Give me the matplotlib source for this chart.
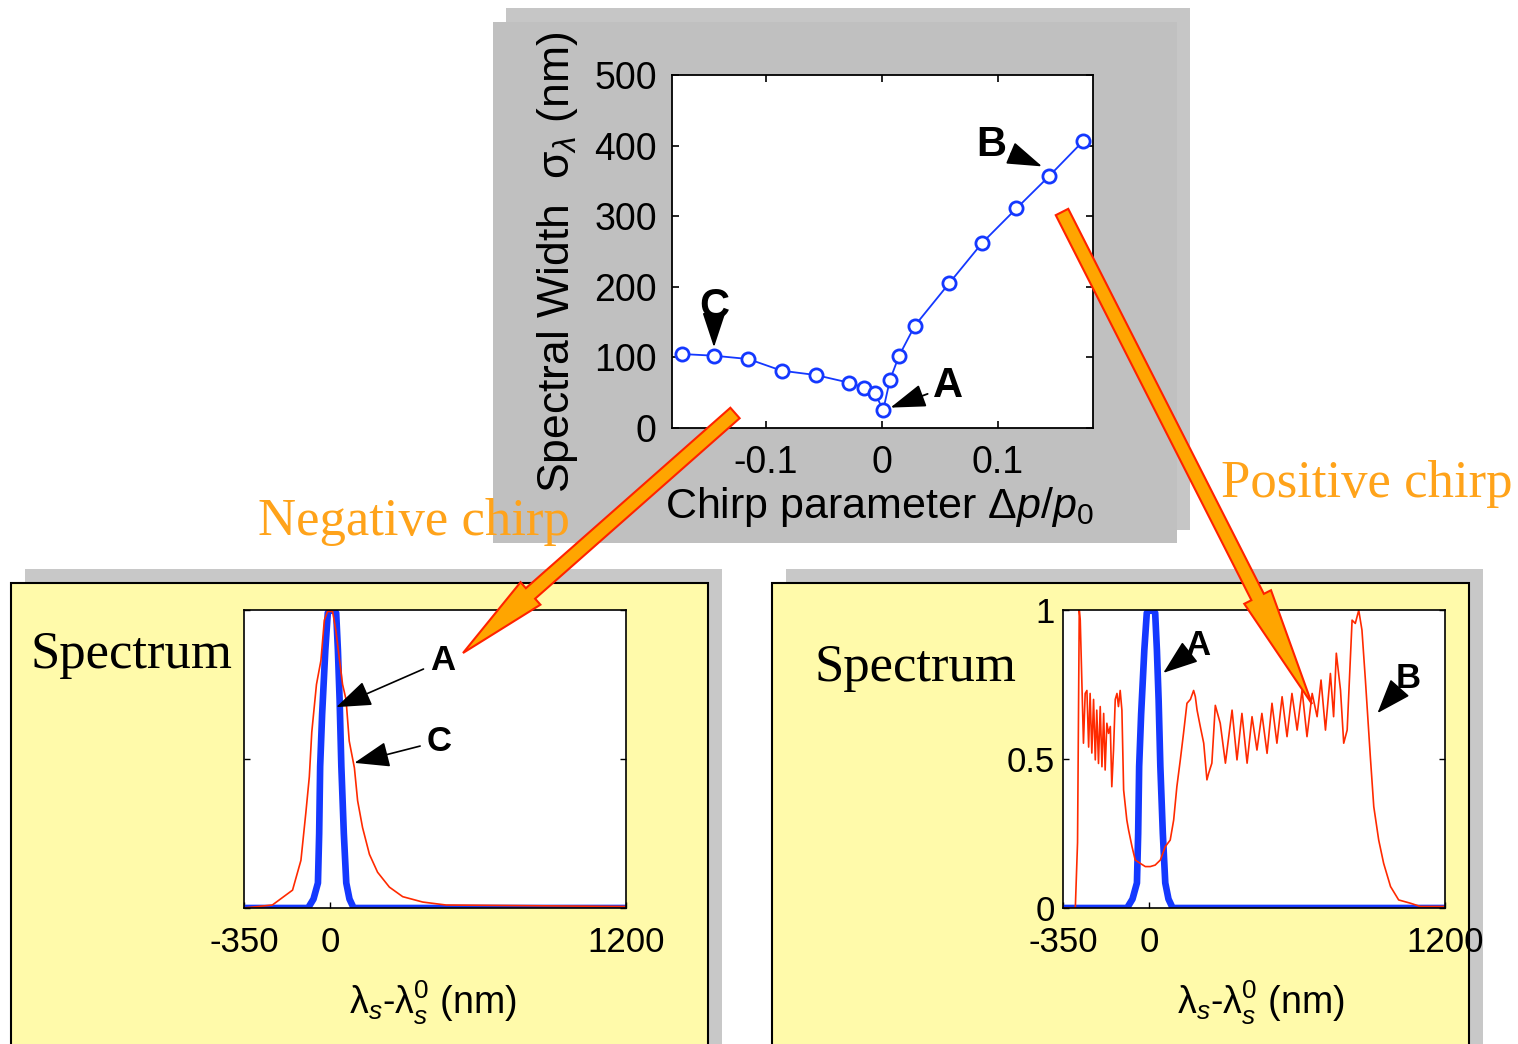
import numpy as np
import matplotlib
matplotlib.use('Agg')
import matplotlib.pyplot as plt
from matplotlib.patches import Rectangle, FancyArrow

plt.rcParams['font.family'] = ['Liberation Sans', 'DejaVu Sans']
plt.rcParams['mathtext.fontset'] = 'custom'
plt.rcParams['mathtext.rm'] = 'Liberation Sans'
plt.rcParams['mathtext.it'] = 'Liberation Sans:italic'
plt.rcParams['mathtext.bf'] = 'Liberation Sans:bold'
plt.rcParams['axes.unicode_minus'] = False

# spectral width vs chirp parameter (top panel)
chirp = [-0.1727, -0.1448, -0.1152, -0.0865, -0.0569, -0.0284, -0.0152, -0.0060, 0.0011,
         0.0069, 0.0147, 0.0284, 0.0580, 0.0866, 0.1160, 0.1443, 0.1736]
sigma = [104.8, 102.4, 97.7, 81.2, 75.0, 64.2, 57.1, 49.1, 25.5,
         68.0, 102.0, 145.0, 205.0, 262.5, 311.0, 357.0, 406.5]
pt_a, pt_b, pt_c = 8, 15, 1   # which points are A, B, C

# spectrum A (zero chirp, blue, both lower panels)
lam_a = [-350, -90, -68, -50, -45, -41, -33, -20, -10, 0, 12, 24, 31, 38, 45, 55, 65, 78, 95, 1200]
spec_a = [0, 0, 0.03, 0.084, 0.25, 0.475, 0.65, 0.866, 0.99, 1.0, 1.0, 0.99, 0.866, 0.698,
          0.475, 0.251, 0.084, 0.03, 0, 0]

# spectrum C (negative chirp)
lam_c = [-350, -235, -153, -119, -99, -85, -75, -56, -38, -24, -11, 9.5, 23, 50, 64, 77, 98,
         111, 131, 159, 192, 240, 294, 375, 470, 1200]
spec_c = [0, 0.01, 0.06, 0.16, 0.32, 0.44, 0.59, 0.75, 0.83, 0.966, 0.995, 0.995, 0.93, 0.75,
          0.70, 0.56, 0.47, 0.36, 0.27, 0.18, 0.12, 0.07, 0.038, 0.02, 0.01, 0.005]

# spectrum B (positive chirp)
lam_b = [-350, -300, -291, -284, -280, -267, -260, -253, -246, -240,
         -233, -226, -219, -213, -206, -199, -192, -185, -179, -172,
         -165, -158, -152, -145, -138, -131, -125, -118, -111, -104,
         -91, -84, -70, -57, -37, -16, 4, 24, 45, 65,
         85, 99, 112, 126, 139, 153, 167, 180, 187, 194,
         207, 221, 234, 241, 254, 268, 288, 309, 336, 356,
         376, 397, 417, 437, 457, 478, 498, 518, 539, 559,
         579, 600, 620, 640, 661, 681, 697, 715, 735, 748,
         759, 776, 789, 803, 823, 836, 850, 863, 877, 897,
         911, 931, 951, 979, 1012, 1060, 1100, 1200]
spec_b = [0, 0, 0.22, 1.0, 0.966, 0.553, 0.72, 0.73, 0.54, 0.72,
          0.52, 0.70, 0.497, 0.664, 0.485, 0.676, 0.474, 0.653, 0.463, 0.62,
          0.586, 0.609, 0.407, 0.53, 0.70, 0.72, 0.676, 0.73, 0.664, 0.396,
          0.295, 0.262, 0.206, 0.161, 0.15, 0.139, 0.139, 0.144, 0.161, 0.206,
          0.228, 0.295, 0.407, 0.497, 0.586, 0.687, 0.70, 0.73, 0.709, 0.664,
          0.609, 0.553, 0.43, 0.452, 0.486, 0.68, 0.62, 0.486, 0.664, 0.497,
          0.653, 0.486, 0.642, 0.53, 0.653, 0.519, 0.687, 0.553, 0.709, 0.575,
          0.72, 0.597, 0.731, 0.575, 0.72, 0.642, 0.765, 0.597, 0.787, 0.642,
          0.855, 0.731, 0.553, 0.597, 0.966, 0.955, 0.999, 0.933, 0.765, 0.508,
          0.34, 0.228, 0.15, 0.072, 0.027, 0.016, 0.005, 0.005]

lam_ticks = [-350, 0, 1200]

W, H = 1518, 1044
BLUE = '#1438ff'
RED = '#ff2a00'
ORANGE = '#ffa31a'


def px_axes(fig, l, t, r, b, z):
    # axes placed by pixel box (left, top, right, bottom)
    return fig.add_axes([l / W, 1 - b / H, (r - l) / W, (b - t) / H], zorder=z)


fig = plt.figure(figsize=(W / 100, H / 100), dpi=100)

# background boxes in pixel units
bg = fig.add_axes([0, 0, 1, 1], zorder=0)
bg.set_xlim(0, W)
bg.set_ylim(H, 0)
bg.axis('off')
bg.add_patch(Rectangle((506, 8), 684, 522, fc='#c6c6c6', ec='none'))
bg.add_patch(Rectangle((493, 22), 684, 521, fc='#c0c0c0', ec='none'))
for x0 in (11, 772):
    bg.add_patch(Rectangle((x0 + 14, 569), 697, 480, fc='#c8c8c8', ec='none'))
    bg.add_patch(Rectangle((x0, 583), 697, 470, fc='#fffaaa', ec='black', lw=1.5))

# top panel
ax = px_axes(fig, 672, 75, 1093, 428, 2)
ax.plot(chirp, sigma, '-o', color=BLUE, lw=1.3, ms=9.5, mfc='white', mec=BLUE, mew=2)
ax.set_xlim(-0.181, 0.182)
ax.set_ylim(0, 500)
ax.set_xticks([-0.1, 0, 0.1])
ax.set_xticklabels(['-0.1', '0', '0.1'])
ax.set_yticks([0, 100, 200, 300, 400, 500])
ax.tick_params(direction='in', top=True, right=True, length=5, labelsize=27, width=1.2)
ax.tick_params(axis='x', pad=12)
ax.tick_params(axis='y', pad=11)
for s in ax.spines.values():
    s.set_linewidth(1.3)

arr = dict(arrowstyle='-|>,head_length=1.0,head_width=0.33', color='black', lw=1.3,
           shrinkA=2, shrinkB=2, mutation_scale=22)
ax.annotate('C', xy=(chirp[pt_c], sigma[pt_c] + 8), xytext=(chirp[pt_c], 172),
            ha='center', va='center', fontsize=30, fontweight='bold', arrowprops=arr)
ax.annotate('A', xy=(chirp[pt_a] + 0.004, sigma[pt_a] + 2), xytext=(0.057, 59),
            ha='center', va='center', fontsize=30, fontweight='bold', arrowprops=arr)
ax.annotate('B', xy=(chirp[pt_b] - 0.004, sigma[pt_b] + 12), xytext=(0.094, 401),
            ha='center', va='center', fontsize=30, fontweight='bold', arrowprops=arr)

# lower panels
arr2 = dict(arrowstyle='-|>,head_length=1.1,head_width=0.4', color='black', lw=1.2,
            shrinkA=3, shrinkB=0, mutation_scale=20)
panels = [(244, 626, lam_c, spec_c, False), (1063, 1445, lam_b, spec_b, True)]
axes_low = []
for l, r, lam, spec, show_y in panels:
    a = px_axes(fig, l, 610, r, 908, 2)
    a.plot(lam_a, spec_a, color=BLUE, lw=4.8, solid_joinstyle='round')
    a.plot(lam, spec, color=RED, lw=1.2)
    a.set_xlim(-350, 1200)
    a.set_ylim(0, 1)
    a.set_xticks(lam_ticks)
    a.set_yticks([0, 0.5, 1])
    a.set_yticklabels(['0', '0.5', '1'] if show_y else ['', '', ''])
    a.tick_params(direction='in', right=True, top=False, length=4, labelsize=25, width=1.0)
    a.tick_params(axis='x', pad=13)
    a.tick_params(axis='y', pad=6)
    for s in a.spines.values():
        s.set_linewidth(1.2)
    axes_low.append(a)

axl, axr = axes_low
axl.annotate('A', xy=(24, 0.674), xytext=(456, 0.83), ha='center', va='center',
             fontsize=25, fontweight='bold', arrowprops=arr2)
axl.annotate('C', xy=(98, 0.487), xytext=(443, 0.56), ha='center', va='center',
             fontsize=25, fontweight='bold', arrowprops=arr2)
axr.annotate('A', xy=(57, 0.789), xytext=(197, 0.88), ha='center', va='center',
             fontsize=25, fontweight='bold', arrowprops=arr2)
axr.annotate('B', xy=(926, 0.654), xytext=(1050, 0.77), ha='center', va='center',
             fontsize=25, fontweight='bold', arrowprops=arr2)

# overlay: labels, captions, big arrows (pixel units)
ov = fig.add_axes([0, 0, 1, 1], zorder=5)
ov.set_xlim(0, W)
ov.set_ylim(H, 0)
ov.axis('off')
ov.patch.set_alpha(0)

ov.text(557, 262, r'Spectral Width  σ$_\lambda$ (nm)', rotation=90, ha='center', va='center',
        fontsize=32)
ov.text(879, 507, r'Chirp parameter Δ$p/p_0$', ha='center', va='center', fontsize=31)
ov.text(433, 1003, r'λ$_s$-λ$_s^0$ (nm)', ha='center', va='center', fontsize=27)
ov.text(1261, 1003, r'λ$_s$-λ$_s^0$ (nm)', ha='center', va='center', fontsize=27)
ov.text(131, 655, 'Spectrum', ha='center', va='center', fontsize=38, family='Liberation Serif')
ov.text(916, 668, 'Spectrum', ha='center', va='center', fontsize=38, family='Liberation Serif')
ov.text(414, 522, 'Negative chirp', ha='center', va='center', fontsize=38,
        family='Liberation Serif', color=ORANGE)
ov.text(1367, 484, 'Positive chirp', ha='center', va='center', fontsize=38,
        family='Liberation Serif', color=ORANGE)

ov.add_patch(FancyArrow(735, 413, 463 - 735, 653 - 413, width=14, head_width=30,
                        head_length=90, length_includes_head=True,
                        fc='#ffa500', ec='#ff2200', lw=1.5))
ov.add_patch(FancyArrow(1062, 212, 1312 - 1062, 704 - 212, width=14, head_width=30,
                        head_length=120, length_includes_head=True,
                        fc='#ffa500', ec='#ff2200', lw=1.5))

fig.savefig('out.png', dpi=100, facecolor='white')
